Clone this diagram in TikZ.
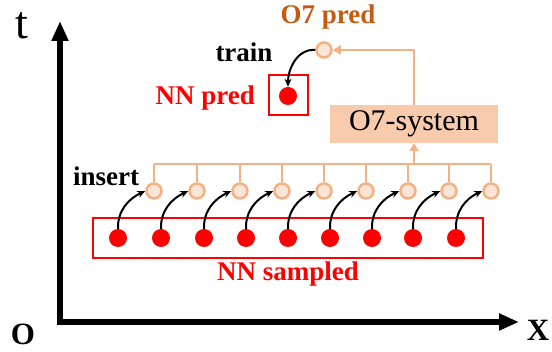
\documentclass[tikz,border=0pt]{standalone}
\usepackage{fontspec}
\setmainfont{Liberation Serif}
\usetikzlibrary{arrows.meta}
\definecolor{obord}{HTML}{F4B183}
\definecolor{ofill}{HTML}{FBE5D6}
\definecolor{obox}{HTML}{F8CBAD}
\definecolor{otext}{HTML}{C55A11}
\tikzset{
  reddot/.style={circle,fill=red,inner sep=0pt,minimum size=18pt},
  odot/.style={circle,draw=obord,fill=ofill,line width=2.5pt,inner sep=0pt,minimum size=15pt},
  ins/.style={-{Stealth[length=8pt,width=7pt]},line width=2pt,black},
  oline/.style={draw=obord,line width=2pt},
  lbl/.style={font=\bfseries\fontsize{27}{30}\selectfont,inner sep=0pt},
  axis/.style={line width=6pt,-{Triangle[length=20pt,width=16pt]}}
}
\begin{document}
\begin{tikzpicture}[x=1pt,y=-1pt]
\useasboundingbox (0,0) rectangle (552,352);
% axes
\coordinate (ttop) at (60,21);
\coordinate (xend) at (519,322);
\draw[axis] (60,325) -- (ttop);
\draw[axis] (57,322) -- (xend);
\node[font=\fontsize{46}{50}\selectfont,inner sep=0pt] (tlab) at (22,26) {t};
\node[font=\bfseries\fontsize{31}{34}\selectfont,inner sep=0pt] (olab) at (23,334) {O};
\node[font=\bfseries\fontsize{31}{34}\selectfont,inner sep=0pt] (xlab) at (538,330) {X};
% sampled box
\node[draw=red,line width=2pt,minimum width=390pt,minimum height=40pt,inner sep=0pt] (sbox) at (288,238) {};
\node[lbl,text=red] (slab) at (288,274) {NN sampled};
% bus
\coordinate (busL) at (154,164);
\coordinate (busR) at (491,164);
\draw[oline] (busL) -- (busR);
\foreach \i/\xa/\xb in {1/118/154,2/161/197,3/204/240,4/246/282,5/288/324,6/330/366,7/372/408,8/413/449,9/456/491}{
  \node[reddot] (r\i) at (\xa,238) {};
  \node[odot] (o\i) at (\xb,191) {};
  \draw[oline,line width=1.6pt] (o\i.north) -- (\xb,164);
  \draw[ins] (r\i.north) to[out=92,in=205] (o\i.west);
}
\node[lbl] (inslab) at (106,176) {insert};
% O7 system
\node[fill=obox,minimum width=168pt,minimum height=38pt,inner sep=0pt,font=\fontsize{30}{33}\selectfont] (sys) at (414,124) {O7-system};
\draw[oline,-{Triangle[length=8pt,width=9pt]}] (414,164) -- (sys.south);
% O7 pred
\node[odot] (op) at (324,50) {};
\draw[oline,-{Triangle[length=8pt,width=9pt]}] (sys.north) |- (op.east);
\node[lbl,text=otext] (oplab) at (328,17) {O7 pred};
\node[lbl] (trlab) at (244,52) {train};
% NN pred
\node[draw=red,line width=2pt,minimum width=39pt,minimum height=40pt,inner sep=0pt] (pbox) at (288,95) {};
\node[reddot] (pd) at (288,96) {};
\node[lbl,text=red,anchor=east] (plab) at (255,98) {NN pred};
\draw[ins] (op.west) to[out=175,in=90] (pd.north);
\end{tikzpicture}
\end{document}
